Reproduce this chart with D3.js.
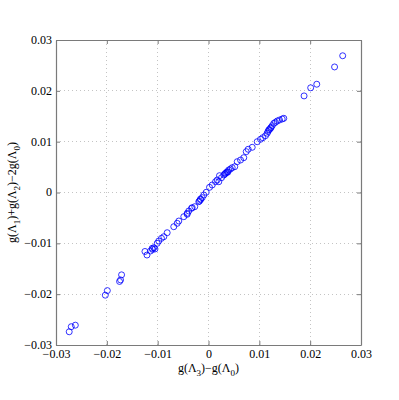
<!DOCTYPE html>
<html>
<head>
<meta charset="utf-8">
<script src="https://cdn.jsdelivr.net/npm/d3@7"></script>
<style>
  body { margin: 0; background: #fff; }
  svg text { font-family: "Liberation Serif", "DejaVu Serif", serif; fill: #000; }
</style>
</head>
<body>
<svg id="chart" width="399" height="400"></svg>
<script>
// g(L3)-g(L0) values
const xVals = [
  -0.0274, -0.0270, -0.0262, -0.0203, -0.0199, -0.0175, -0.0173, -0.0171,
  -0.0125, -0.0121, -0.0114, -0.01108, -0.01076, -0.01053, -0.0110, -0.01009,
  -0.00978, -0.00925, -0.00879, -0.00813, -0.00683, -0.00616, -0.00584, -0.00486,
  -0.00419, -0.00419, -0.00388, -0.00334, -0.00321, -0.00270, -0.00191, -0.00177,
  -0.00157, -0.00157, -0.00124, -0.00092, -0.00045, 0.00020, 0.00073, 0.00138,
  0.00171, 0.00203, 0.00216, 0.00256, 0.00301, 0.00334, 0.00368, 0.00399,
  0.00433, 0.00466, 0.00517, 0.00320, 0.00350, 0.00380, 0.00565, 0.00630,
  0.00694, 0.00742, 0.00781, 0.00860, 0.00958, 0.01023, 0.01068, 0.01121,
  0.01155, 0.01186, 0.01220, 0.01253, 0.01285, 0.01318, 0.01352, 0.01397,
  0.01450, 0.01481, 0.01170, 0.01200, 0.01230, 0.0188, 0.0201, 0.0213,
  0.0248, 0.0264
];
// g(L1)+g(L2)-2g(L0) values
const yVals = [
  -0.0274, -0.0264, -0.0261, -0.0202, -0.0193, -0.0175, -0.0172, -0.0162,
  -0.0116, -0.0123, -0.0115, -0.01098, -0.01086, -0.01111, -0.0112, -0.00999,
  -0.00954, -0.00901, -0.00870, -0.00791, -0.00673, -0.00606, -0.00561, -0.00476,
  -0.00409, -0.00429, -0.00364, -0.00311, -0.00299, -0.00279, -0.00181, -0.00167,
  -0.00142, -0.00128, -0.00102, -0.00049, 0.00004, 0.00102, 0.00148, 0.00212,
  0.00246, 0.00212, 0.00331, 0.00291, 0.00344, 0.00378, 0.00409, 0.00443,
  0.00462, 0.00488, 0.00508, 0.00360, 0.00390, 0.00400, 0.00606, 0.00639,
  0.00685, 0.00803, 0.00850, 0.00889, 0.00999, 0.01047, 0.01078, 0.01117,
  0.01165, 0.01230, 0.01263, 0.01314, 0.01361, 0.01381, 0.01407, 0.01426,
  0.01446, 0.01460, 0.01200, 0.01240, 0.01280, 0.0190, 0.0206, 0.0213,
  0.0247, 0.0269
];
const tickVals = [-0.03, -0.02, -0.01, 0, 0.01, 0.02, 0.03];
const tickLabels = ['\u22120.03', '\u22120.02', '\u22120.01', '0', '0.01', '0.02', '0.03'];

const svg = d3.select('#chart');
const plotL = 56, plotR = 361, plotT = 40, plotB = 345;

const x = d3.scaleLinear().domain([-0.03, 0.03]).range([plotL, plotR]);
const y = d3.scaleLinear().domain([-0.03, 0.03]).range([plotB, plotT]);

// dotted grid
const grid = svg.append('g').attr('stroke', '#c4c4c4').attr('stroke-width', 1)
  .attr('stroke-dasharray', '1,3').attr('shape-rendering', 'crispEdges');
tickVals.slice(1, -1).forEach(v => {
  grid.append('line').attr('x1', x(v)).attr('x2', x(v)).attr('y1', plotT).attr('y2', plotB);
  grid.append('line').attr('x1', plotL).attr('x2', plotR).attr('y1', y(v)).attr('y2', y(v));
});

// axes with inward ticks
const fmt = (d, i) => tickLabels[i];
const xAxis = svg.append('g').attr('transform', `translate(0,${plotB})`)
  .call(d3.axisBottom(x).tickValues(tickVals).tickFormat(fmt).tickSizeInner(-4).tickSizeOuter(0).tickPadding(4));
const xTop = svg.append('g').attr('transform', `translate(0,${plotT})`)
  .call(d3.axisTop(x).tickValues(tickVals).tickFormat('').tickSizeInner(-4).tickSizeOuter(0));
const yAxis = svg.append('g').attr('transform', `translate(${plotL},0)`)
  .call(d3.axisLeft(y).tickValues(tickVals).tickFormat(fmt).tickSizeInner(-4).tickSizeOuter(0).tickPadding(4));
const yRight = svg.append('g').attr('transform', `translate(${plotR},0)`)
  .call(d3.axisRight(y).tickValues(tickVals).tickFormat('').tickSizeInner(-4).tickSizeOuter(0));

[xAxis, xTop, yAxis, yRight].forEach(a => {
  a.attr('font-family', null).attr('font-size', null);
  a.select('.domain').attr('stroke', '#7a7a7a').attr('stroke-width', 1.2);
  a.selectAll('.tick line').attr('stroke', '#7a7a7a');
  a.selectAll('text').attr('font-size', 12).attr('fill', '#000');
});
yAxis.selectAll('text').attr('dy', '0.28em');

// points
svg.append('g').selectAll('circle').data(xVals.map((v, i) => [v, yVals[i]])).enter()
  .append('circle')
  .attr('cx', d => x(d[0]))
  .attr('cy', d => y(d[1]))
  .attr('r', 3)
  .attr('fill', 'none')
  .attr('stroke', '#0000ff')
  .attr('stroke-width', 0.8);

// labels
const xl = svg.append('text').attr('x', (plotL + plotR) / 2).attr('y', 372)
  .attr('text-anchor', 'middle').attr('font-size', 12);
xl.append('tspan').text('g(\u039B');
xl.append('tspan').attr('font-size', 9).attr('dy', 4).text('3');
xl.append('tspan').attr('dy', -4).text(')\u2212g(\u039B');
xl.append('tspan').attr('font-size', 9).attr('dy', 4).text('0');
xl.append('tspan').attr('dy', -4).text(')');

const yl = svg.append('text').attr('transform', `translate(16,${(plotT + plotB) / 2}) rotate(-90)`)
  .attr('text-anchor', 'middle').attr('font-size', 12);
yl.append('tspan').text('g(\u039B');
yl.append('tspan').attr('font-size', 9).attr('dy', 4).text('1');
yl.append('tspan').attr('dy', -4).text(')+g(\u039B');
yl.append('tspan').attr('font-size', 9).attr('dy', 4).text('2');
yl.append('tspan').attr('dy', -4).text(')\u22122g(\u039B');
yl.append('tspan').attr('font-size', 9).attr('dy', 4).text('0');
yl.append('tspan').attr('dy', -4).text(')');
</script>
</body>
</html>
